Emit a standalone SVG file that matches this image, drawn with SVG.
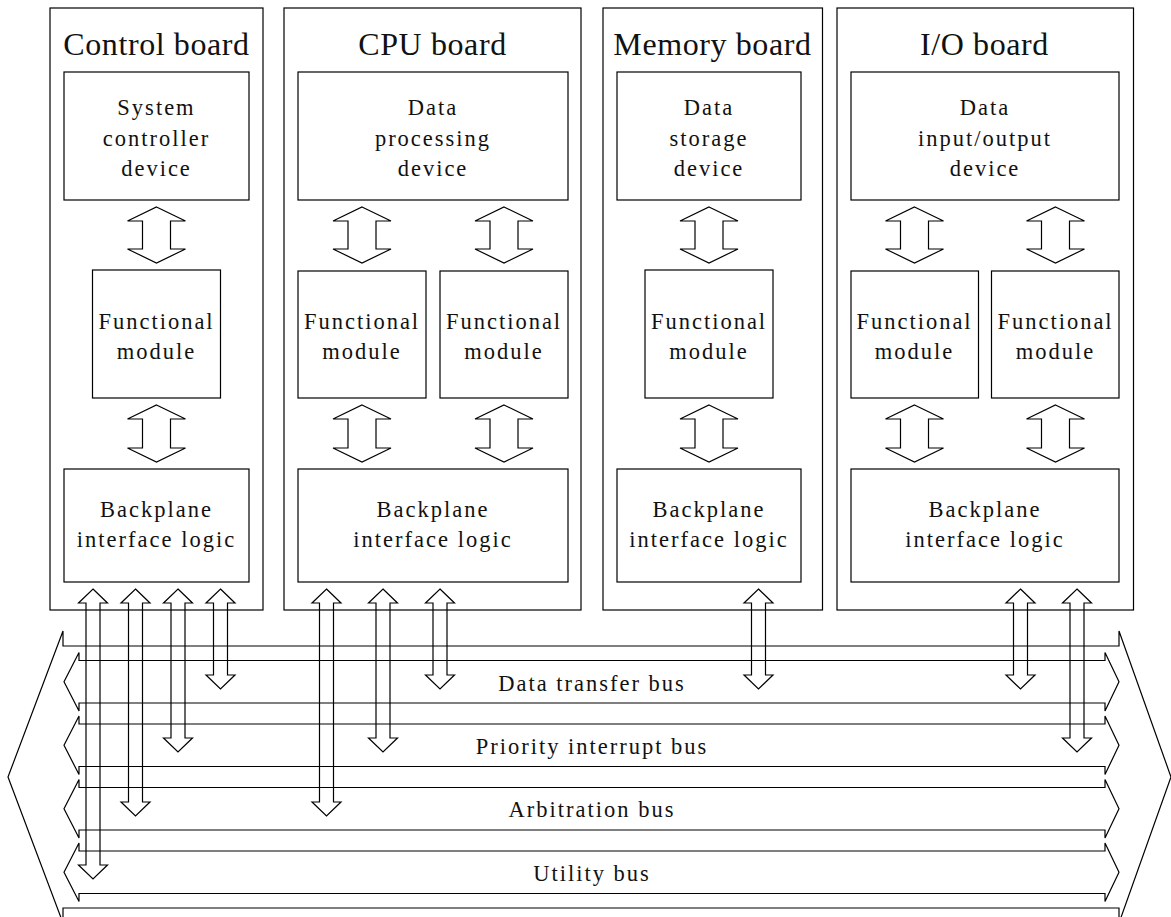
<svg xmlns="http://www.w3.org/2000/svg" width="1171" height="917" viewBox="0 0 1171 917">
  <style>
    .ln { fill: none; stroke: #000; stroke-width: 1.2; }
    .title { font-family: "Liberation Serif", "Times New Roman", serif; font-size: 32px; letter-spacing: 0.6px; fill: #111; text-anchor: middle; }
    .lbl { font-family: "Liberation Serif", "Times New Roman", serif; font-size: 22.5px; letter-spacing: 2px; fill: #111; text-anchor: middle; }
  </style>
  <defs>
    <!-- wide double arrows between blocks on a board (centred on x=0) -->
    <path id="link-upper" class="ln" d="M0,207 L29,221 L14,221 L14,249 L29,249 L0,263 L-29,249 L-14,249 L-14,221 L-29,221 Z"/>
    <path id="link-lower" class="ln" d="M0,405 L29,419 L14,419 L14,448 L29,448 L0,462 L-29,448 L-14,448 L-14,419 L-29,419 Z"/>
    <!-- narrow double arrows from backplane logic down to each bus -->
    <path id="tap-dt" class="ln" d="M0,589 L14.5,603 L7,603 L7,675 L14.5,675 L0,689 L-14.5,675 L-7,675 L-7,603 L-14.5,603 Z"/>
    <path id="tap-pi" class="ln" d="M0,589 L14.5,603 L7,603 L7,738 L14.5,738 L0,752 L-14.5,738 L-7,738 L-7,603 L-14.5,603 Z"/>
    <path id="tap-ab" class="ln" d="M0,589 L14.5,603 L7,603 L7,802 L14.5,802 L0,816 L-14.5,802 L-7,802 L-7,603 L-14.5,603 Z"/>
    <path id="tap-ut" class="ln" d="M0,589 L14.5,603 L7,603 L7,865 L14.5,865 L0,879 L-14.5,865 L-7,865 L-7,603 L-14.5,603 Z"/>
    <!-- one bus: double-headed horizontal arrow, top edge at y=0 -->
    <path id="bus" class="ln" d="M79,0 H1105 V-8 L1119,21.25 L1105,50.5 V42.5 H79 V50.5 L64,21.25 L79,-8 Z"/>
  </defs>

  <rect width="1171" height="917" fill="#fff"/>

  <!-- Control board -->
  <g id="control-board">
    <rect class="ln" x="50" y="8" width="213" height="602"/>
    <text class="title" x="156.5" y="55">Control board</text>
    <rect class="ln" x="64" y="72" width="185" height="128"/>
    <text class="lbl" x="156.5" y="115">System</text>
    <text class="lbl" x="156.5" y="145.5">controller</text>
    <text class="lbl" x="156.5" y="176">device</text>
    <rect class="ln" x="92.5" y="270" width="128" height="128"/>
    <text class="lbl" x="156.5" y="329">Functional</text>
    <text class="lbl" x="156.5" y="359">module</text>
    <rect class="ln" x="64" y="469" width="185" height="113"/>
    <text class="lbl" x="156.5" y="516.5">Backplane</text>
    <text class="lbl" x="156.5" y="546.5">interface logic</text>
  </g>

  <!-- CPU board -->
  <g id="cpu-board">
    <rect class="ln" x="284" y="8" width="297" height="602"/>
    <text class="title" x="432.5" y="55">CPU board</text>
    <rect class="ln" x="298" y="72" width="270" height="128"/>
    <text class="lbl" x="433" y="115">Data</text>
    <text class="lbl" x="433" y="145.5">processing</text>
    <text class="lbl" x="433" y="176">device</text>
    <rect class="ln" x="298" y="271" width="128" height="127"/>
    <text class="lbl" x="362" y="329">Functional</text>
    <text class="lbl" x="362" y="359">module</text>
    <rect class="ln" x="440" y="271" width="128" height="127"/>
    <text class="lbl" x="504" y="329">Functional</text>
    <text class="lbl" x="504" y="359">module</text>
    <rect class="ln" x="298" y="469" width="270" height="113"/>
    <text class="lbl" x="433" y="516.5">Backplane</text>
    <text class="lbl" x="433" y="546.5">interface logic</text>
  </g>

  <!-- Memory board -->
  <g id="memory-board">
    <rect class="ln" x="603" y="8" width="219.5" height="602"/>
    <text class="title" x="712.5" y="55">Memory board</text>
    <rect class="ln" x="617" y="72" width="184" height="128"/>
    <text class="lbl" x="709" y="115">Data</text>
    <text class="lbl" x="709" y="145.5">storage</text>
    <text class="lbl" x="709" y="176">device</text>
    <rect class="ln" x="645" y="270" width="128" height="128"/>
    <text class="lbl" x="709" y="329">Functional</text>
    <text class="lbl" x="709" y="359">module</text>
    <rect class="ln" x="617" y="469" width="184" height="113"/>
    <text class="lbl" x="709" y="516.5">Backplane</text>
    <text class="lbl" x="709" y="546.5">interface logic</text>
  </g>

  <!-- I/O board -->
  <g id="io-board">
    <rect class="ln" x="837" y="8" width="296.5" height="602"/>
    <text class="title" x="984.5" y="55">I/O board</text>
    <rect class="ln" x="851" y="72" width="268" height="128"/>
    <text class="lbl" x="985" y="115">Data</text>
    <text class="lbl" x="985" y="145.5">input/output</text>
    <text class="lbl" x="985" y="176">device</text>
    <rect class="ln" x="851" y="271" width="127.5" height="127"/>
    <text class="lbl" x="914.5" y="329">Functional</text>
    <text class="lbl" x="914.5" y="359">module</text>
    <rect class="ln" x="991.5" y="271" width="127.5" height="127"/>
    <text class="lbl" x="1055.5" y="329">Functional</text>
    <text class="lbl" x="1055.5" y="359">module</text>
    <rect class="ln" x="851" y="469" width="268" height="113"/>
    <text class="lbl" x="985" y="516.5">Backplane</text>
    <text class="lbl" x="985" y="546.5">interface logic</text>
  </g>

  <!-- Backplane: outer envelope and the four buses -->
  <g id="backplane">
    <path class="ln" d="M63,646 V631 L8,777 L63,923 V908 H1119 V923 L1171,777 L1119,631 V646 Z"/>
    <use href="#bus" transform="translate(0,660.5)"/>
    <use href="#bus" transform="translate(0,724)"/>
    <use href="#bus" transform="translate(0,787.5)"/>
    <use href="#bus" transform="translate(0,851)"/>
    <text class="lbl" x="592" y="690.5">Data transfer bus</text>
    <text class="lbl" x="592" y="753.5">Priority interrupt bus</text>
    <text class="lbl" x="592" y="817">Arbitration bus</text>
    <text class="lbl" x="592" y="880.5">Utility bus</text>
  </g>

  <!-- Connectors -->
  <g id="connectors">
    <!-- on-board links -->
    <use href="#link-upper" transform="translate(156.5,0)"/>
    <use href="#link-lower" transform="translate(156.5,0)"/>
    <use href="#link-upper" transform="translate(362,0)"/>
    <use href="#link-lower" transform="translate(362,0)"/>
    <use href="#link-upper" transform="translate(504,0)"/>
    <use href="#link-lower" transform="translate(504,0)"/>
    <use href="#link-upper" transform="translate(709,0)"/>
    <use href="#link-lower" transform="translate(709,0)"/>
    <use href="#link-upper" transform="translate(914.5,0)"/>
    <use href="#link-lower" transform="translate(914.5,0)"/>
    <use href="#link-upper" transform="translate(1055.5,0)"/>
    <use href="#link-lower" transform="translate(1055.5,0)"/>
    <!-- bus taps -->
    <use href="#tap-ut" transform="translate(93,0)"/>
    <use href="#tap-ab" transform="translate(135.5,0)"/>
    <use href="#tap-pi" transform="translate(178,0)"/>
    <use href="#tap-dt" transform="translate(220.5,0)"/>
    <use href="#tap-ab" transform="translate(326.5,0)"/>
    <use href="#tap-pi" transform="translate(383,0)"/>
    <use href="#tap-dt" transform="translate(440,0)"/>
    <use href="#tap-dt" transform="translate(758.5,0)"/>
    <use href="#tap-dt" transform="translate(1020.5,0)"/>
    <use href="#tap-pi" transform="translate(1077,0)"/>
  </g>
</svg>
